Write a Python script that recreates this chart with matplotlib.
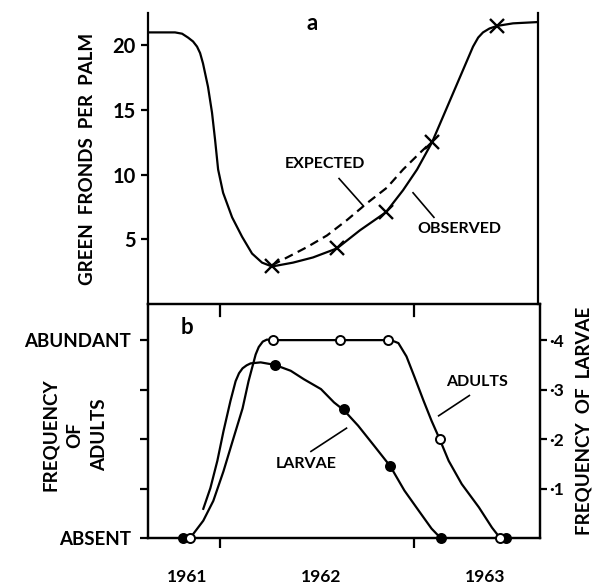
import matplotlib
matplotlib.use("Agg")
import matplotlib.pyplot as plt

# x values are months counted from Jan 1961 (tick marks fall on Jan 1962 / Jan 1963)

# panel a - green fronds per palm
obs_month = [7.52, 7.65, 9.20, 9.64, 10.01, 10.32, 10.57, 10.76, 10.94, 11.25, 11.50, 11.69,
             11.88, 12.19, 12.75, 13.37, 13.99, 14.61, 15.23, 16.54, 17.78, 19.27, 20.70,
             22.32, 23.38, 24.25, 25.18, 25.87, 26.49, 27.11, 27.73, 28.05, 28.35, 28.75,
             29.22, 30.22, 31.77]
obs_fronds = [21.0, 21.0, 21.0, 20.9, 20.6, 20.3, 19.9, 19.4, 18.6, 16.8, 14.8, 12.7,
              10.4, 8.6, 6.7, 5.2, 3.9, 3.2, 2.9, 3.2, 3.6, 4.3, 5.7,
              7.1, 8.8, 10.4, 12.5, 14.5, 16.3, 18.1, 19.9, 20.6, 21.0, 21.3,
              21.5, 21.7, 21.8]
exp_month = [15.23, 16.17, 17.41, 18.65, 19.90, 21.14, 22.38, 23.38, 24.44, 25.12]
exp_fronds = [3.0, 3.6, 4.4, 5.3, 6.5, 7.8, 9.0, 10.4, 11.7, 12.5]
cross_month = [15.23, 19.27, 22.32, 25.18, 29.22]
cross_fronds = [2.9, 4.3, 7.1, 12.5, 21.5]

# panel b - adults (left scale, 0 = absent, 4 = abundant)
adult_curve_month = [10.13, 10.94, 11.56, 12.19, 12.81, 13.37, 13.74, 14.18, 14.37, 14.62,
                     14.87, 15.23, 19.40, 22.38, 22.70, 23.01, 23.51, 24.00, 24.56, 25.06,
                     25.56, 26.12, 26.93, 27.99, 28.80, 29.30]
adult_curve = [0.0, 0.35, 0.75, 1.35, 2.02, 2.62, 3.17, 3.71, 3.86, 3.97,
               4.01, 4.0, 4.0, 4.0, 3.98, 3.94, 3.67, 3.26, 2.78, 2.37,
               2.0, 1.56, 1.09, 0.62, 0.21, 0.0]
adult_pt_month = [10.13, 15.23, 19.40, 22.38, 25.56, 29.30]
adult_pt = [0, 4, 4, 4, 2, 0]

# panel b - larvae (right scale)
larvae_curve_month = [10.94, 11.38, 11.81, 12.19, 12.62, 12.94, 13.15, 13.37, 13.62, 13.87,
                      14.49, 15.36, 16.35, 17.16, 18.22, 19.03, 19.65, 20.52, 21.52, 22.51,
                      23.38, 24.25, 25.06, 25.62]
larvae_curve = [0.059, 0.101, 0.156, 0.216, 0.277, 0.317, 0.333, 0.343, 0.349, 0.353,
                0.355, 0.350, 0.338, 0.321, 0.301, 0.274, 0.258, 0.227, 0.186, 0.145,
                0.096, 0.056, 0.019, 0.0]
larvae_pt_month = [9.70, 15.36, 19.65, 22.51, 25.62, 29.66]
larvae_pt = [0, 0.35, 0.26, 0.145, 0, 0]

year_ticks = [12, 24]
year_labels = ["1961", "1962", "1963"]
year_label_month = [9.95, 18.22, 28.35]

frond_ticks = [5, 10, 15, 20]
adult_ticks = [0, 1, 2, 3, 4]
adult_tick_labels = ["ABSENT", "", "", "", "ABUNDANT"]
larvae_ticks = [0.1, 0.2, 0.3, 0.4]
larvae_tick_labels = ["\u00b71", "\u00b72", "\u00b73", "\u00b74"]

plt.rcParams["font.family"] = ["Lato", "DejaVu Sans"]
plt.rcParams["font.weight"] = "bold"
FS = 13.5
LW = 1.6

W, H = 595, 588
fig = plt.figure(figsize=(W / 100, H / 100), dpi=100)

xlim = (7.52, 31.77)

# ---- panel a ----
ax1 = fig.add_axes([148 / W, 1 - 304 / H, 390 / W, 291 / H])
ax1.plot(obs_month, obs_fronds, color="black", lw=LW, solid_joinstyle="round")
ax1.plot(exp_month, exp_fronds, color="black", lw=LW, ls=(0, (4, 2.5)))
ax1.plot(cross_month, cross_fronds, ls="none", marker="x", ms=10, mew=1.7, color="black")
ax1.set_xlim(*xlim)
ax1.set_ylim(0, 22.5)
ax1.spines["top"].set_visible(False)
ax1.spines["bottom"].set_visible(False)
for s in ["left", "right"]:
    ax1.spines[s].set_linewidth(LW)
ax1.set_xticks([])
ax1.set_yticks(frond_ticks)
ax1.set_yticklabels([str(t) for t in frond_ticks], fontsize=FS + 1, fontweight="bold")
ax1.tick_params(axis="y", direction="out", length=5, width=LW, pad=4)
ax1.set_ylabel("GREEN  FRONDS  PER  PALM", fontsize=FS, fontweight="bold", labelpad=12)
ax1.text(0.42, 0.965, "a", transform=ax1.transAxes, fontsize=16, fontweight="bold",
         ha="center", va="center")

# annotation labels with leader lines
ax1.text(18.5, 10.8, "EXPECTED", fontsize=FS - 2, fontweight="bold", ha="center", va="center")
ax1.plot([19.4, 20.9], [9.7, 7.6], color="black", lw=1.2)
ax1.text(26.86, 5.8, "OBSERVED", fontsize=FS - 2, fontweight="bold", ha="center", va="center")
ax1.plot([24.0, 25.3], [8.6, 6.7], color="black", lw=1.2)

# ---- panel b ----
ax2 = fig.add_axes([148 / W, 1 - 538 / H, 392 / W, 234 / H])
ax2.plot(adult_curve_month, adult_curve, color="black", lw=LW, solid_joinstyle="round")
ax2.plot(adult_pt_month, adult_pt, ls="none", marker="o", ms=6.5, mew=1.4,
         mfc="white", mec="black", zorder=4, clip_on=False)
ax2.set_xlim(*xlim)
ax2.set_ylim(0, 4.73)
for s in ax2.spines.values():
    s.set_linewidth(LW)
ax2.set_yticks(adult_ticks)
ax2.set_yticklabels(adult_tick_labels, fontsize=FS, fontweight="bold")
ax2.tick_params(axis="y", direction="out", length=6, width=LW, pad=6)
ax2.set_xticks(year_ticks)
ax2.set_xticklabels(["", ""])
ax2.tick_params(axis="x", which="major", direction="out", length=7, width=LW,
                top=False, bottom=True)
ax2.set_xticks(year_label_month, minor=True)
ax2.set_xticklabels(year_labels, minor=True, fontsize=FS - 1, fontweight="bold")
ax2.tick_params(axis="x", which="minor", length=0, pad=22)
ax2.text(0.1, 0.9, "b", transform=ax2.transAxes, fontsize=16, fontweight="bold",
         ha="center", va="center")

# inward ticks hanging from the top edge of panel b (same year boundaries)
for xt in year_ticks:
    ax2.axvline(xt, ymin=0.95, ymax=1.0, color="black", lw=LW, zorder=5)

for px, word in zip([50, 75, 100], ["FREQUENCY", "OF", "ADULTS"]):
    fig.text(px / W, 1 - 435 / H, word, rotation=90, fontsize=FS, fontweight="bold",
             ha="center", va="center")

ax3 = ax2.twinx()
ax3.plot(larvae_curve_month, larvae_curve, color="black", lw=LW, solid_joinstyle="round")
ax3.plot(larvae_pt_month, larvae_pt, ls="none", marker="o", ms=6.5, mew=1.4,
         mfc="black", mec="black", zorder=3, clip_on=False)
ax3.set_ylim(0, 0.473)
for s in ax3.spines.values():
    s.set_linewidth(LW)
ax3.set_yticks(larvae_ticks)
ax3.set_yticklabels(larvae_tick_labels, fontsize=FS - 1, fontweight="bold")
ax3.tick_params(axis="y", direction="out", length=5, width=LW, pad=2)
ax3.set_ylabel("FREQUENCY  OF  LARVAE", fontsize=FS, fontweight="bold", labelpad=8)
ax3.patch.set_visible(False)
ax2.set_zorder(ax3.get_zorder() + 1)
ax2.patch.set_visible(False)

ax2.text(27.9, 3.15, "ADULTS", fontsize=FS - 2, fontweight="bold", ha="center", va="center")
ax2.plot([25.5, 27.4], [2.47, 2.88], color="black", lw=1.2)
ax2.text(17.3, 1.5, "LARVAE", fontsize=FS - 2, fontweight="bold", ha="center", va="center")
ax2.plot([17.6, 19.8], [1.75, 2.22], color="black", lw=1.2)

fig.savefig("out.png", dpi=100)
